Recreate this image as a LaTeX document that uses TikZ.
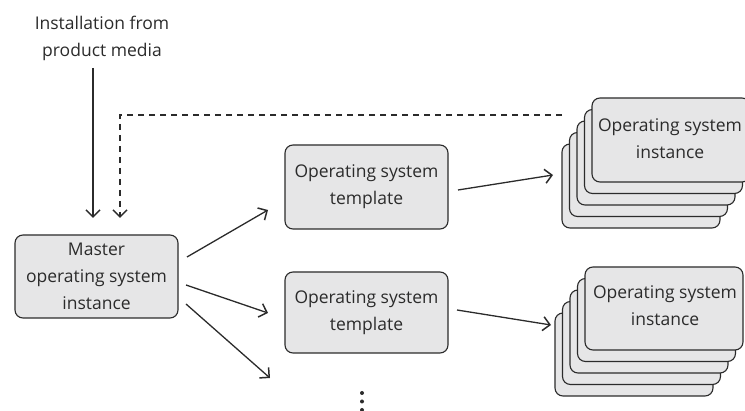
\documentclass[tikz,border=0pt]{standalone}
\usepackage{fontspec}
\setmainfont{Open Sans}
\usetikzlibrary{arrows.meta}
\definecolor{boxfill}{HTML}{E6E6E7}
\definecolor{ink}{HTML}{2B2B2B}
\tikzset{
  card/.style={draw=ink, fill=boxfill, line width=1.1pt, rounded corners=8pt, inner sep=0pt},
  txt/.style={text=ink, font=\fontsize{17.5}{27}\selectfont, align=center},
  tip/.style={-{Straight Barb[length=7pt,width=14pt,line width=1.5pt]}},
  arr/.style={draw=ink, line width=1.3pt, tip},
  dsh/.style={draw=ink, line width=1.3pt, dash pattern=on 6pt off 5pt, tip}
}
\begin{document}
\begin{tikzpicture}[x=1pt,y=-1pt]
\useasboundingbox (0,0) rectangle (745,411);
\clip (0,0) rectangle (745,411);

% label
\node[txt] (lbl) at (102,38) {Installation from\\product media};

% master
\node[card, minimum width=163pt, minimum height=83pt] (master) at (96.5,276.5) {};
\node[txt] at (master.center) {Master\\operating system\\instance};

% templates
\node[card, minimum width=163pt, minimum height=84pt] (t1) at (366.5,187) {};
\node[txt] at (t1.center) {Operating system\\template};
\node[card, minimum width=163pt, minimum height=81pt] (t2) at (366.5,312.5) {};
\node[txt] at (t2.center) {Operating system\\template};

% stack 1
\foreach \i in {4,3,2,1,0} {
  \draw[card] ({592-7.5*\i},{98+11.5*\i}) rectangle ++(158,84);
}
\node[txt] (s1) at (670,139) {Operating system\\instance};
% stack 2
\foreach \i in {4,3,2,1,0} {
  \draw[card] ({585-7.5*\i},{267+11.5*\i}) rectangle ++(158,83);
}
\node[txt] (s2) at (665,306) {Operating system\\instance};

% coordinates
\coordinate (a0) at (93,68);
\coordinate (a1) at (93,218);
\coordinate (d0) at (562,115);
\coordinate (d1) at (120,115);
\coordinate (d2) at (120,218);
\coordinate (m1) at (187,257);
\coordinate (m2) at (186,285);
\coordinate (m3) at (186,304);
\coordinate (e1) at (268,210);
\coordinate (e2) at (268,313);
\coordinate (e3) at (270,378);
\coordinate (t1o) at (458,190);
\coordinate (t2o) at (457,310);
\coordinate (s1i) at (553,175);
\coordinate (s2i) at (551,325);

\draw[arr] (a0) -- (a1);
\draw[dsh] (d0) -- (d1) -- (d2);
\draw[arr] (m1) -- (e1);
\draw[arr] (m2) -- (e2);
\draw[arr] (m3) -- (e3);
\draw[arr] (t1o) -- (s1i);
\draw[arr] (t2o) -- (s2i);

% dots
\foreach \y in {393,401.5,410} \fill[ink] (362,\y) circle (2pt);
\end{tikzpicture}
\end{document}
